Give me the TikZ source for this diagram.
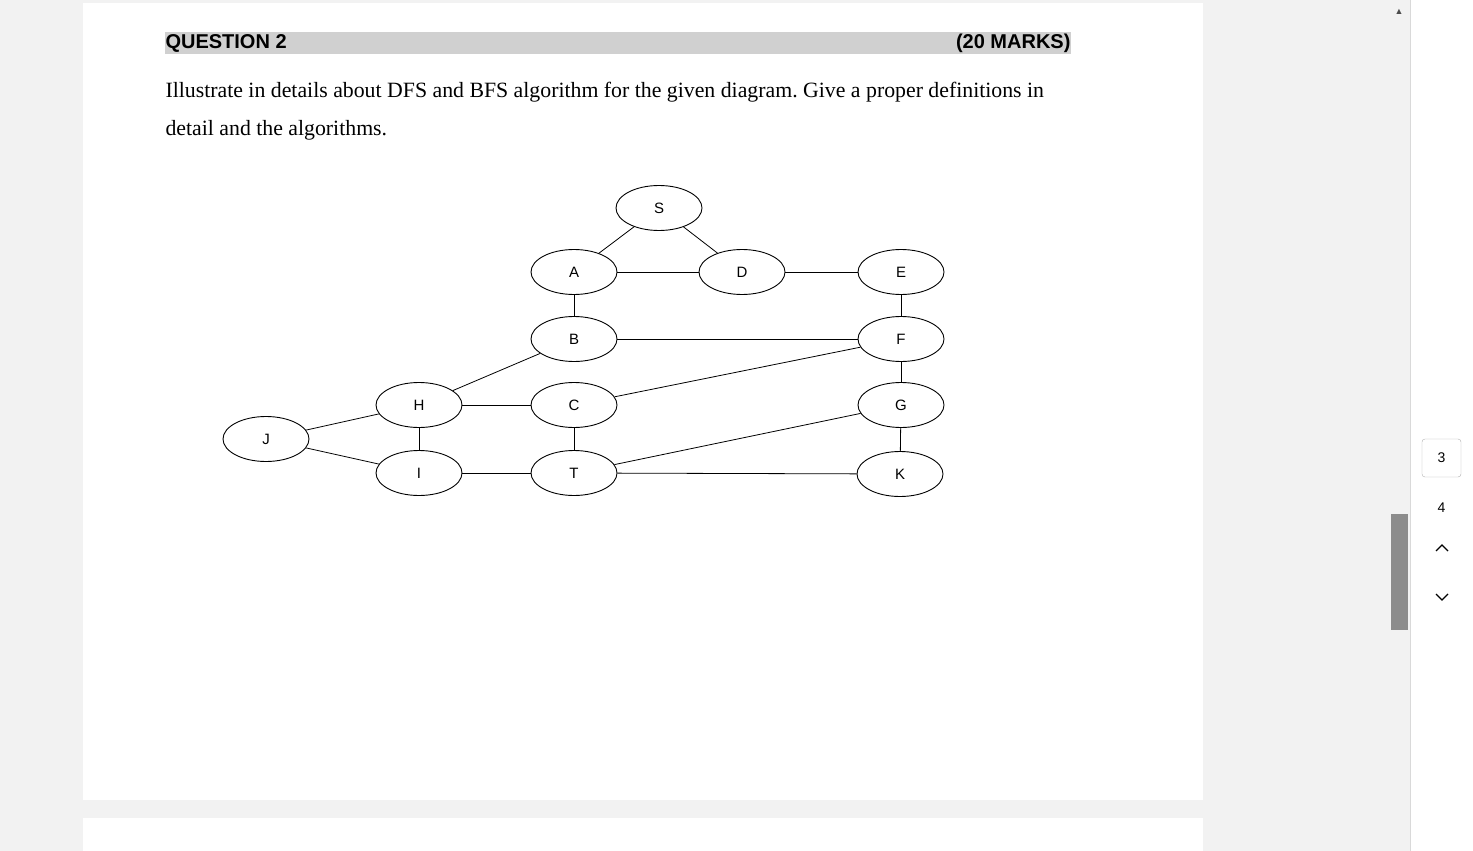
\documentclass[tikz,border=0pt]{standalone}
\usepackage{fontspec}
\setmainfont{Liberation Serif}
\setsansfont{Liberation Sans}
\usetikzlibrary{shapes.geometric}
\definecolor{bg}{HTML}{F2F2F2}
\definecolor{bar}{HTML}{D0D0D0}
\tikzset{
  vtx/.style={ellipse,draw,line width=0.9pt,minimum width=86pt,minimum height=45pt,inner sep=0pt,font=\sffamily\fontsize{15}{15}\selectfont},
  edge/.style={line width=0.8pt},
}
\frenchspacing
\begin{document}
\begin{tikzpicture}[x=1pt,y=-1pt]
\useasboundingbox (0,0) rectangle (1473,851);
\fill[bg] (0,0) rectangle (1473,851);
\fill[white] (83,3) rectangle (1203,800);
\fill[white] (83,818) rectangle (1203,851);
\fill[white] (1411,0) rectangle (1473,851);
\draw[black!15] (1410.5,0) -- (1410.5,851);
\fill[black!45] (1391,514) rectangle (1408,630);
\node[font=\sffamily\small, text=black!70] (up) at (1399,12) {\char"25B2};
\draw[black!30,rounded corners=3pt,fill=white] (1422,439) rectangle (1461,477);
\node[font=\sffamily\fontsize{14}{14}\selectfont] (p3) at (1441.5,458) {3};
\node[font=\sffamily\fontsize{14}{14}\selectfont] (p4) at (1441.5,508) {4};
\draw[line width=1.3pt] (1436,551) -- (1442,545) -- (1448,551);
\draw[line width=1.3pt] (1436,594) -- (1442,600) -- (1448,594);
% header
\fill[bar] (165,32) rectangle (1071,54);
\node[anchor=west,font=\sffamily\bfseries\fontsize{20}{20}\selectfont] (q) at (162,43) {QUESTION 2};
\node[anchor=east,font=\sffamily\bfseries\fontsize{20}{20}\selectfont] (m) at (1074,43) {(20 MARKS)};
\node[anchor=west,font=\fontsize{21.8}{22}\selectfont] (t1) at (162,92) {Illustrate in details about DFS and BFS algorithm for the given diagram. Give a proper definitions in};
\node[anchor=west,font=\fontsize{21.8}{22}\selectfont] (t2) at (162,130) {detail and the algorithms.};
% graph
\node[vtx] (S) at (659,208) {S};
\node[vtx] (A) at (574,272) {A};
\node[vtx] (D) at (742,272) {D};
\node[vtx] (E) at (901,272) {E};
\node[vtx] (B) at (574,339) {B};
\node[vtx] (F) at (901,339) {F};
\node[vtx] (H) at (419,405) {H};
\node[vtx] (C) at (574,405) {C};
\node[vtx] (G) at (901,405) {G};
\node[vtx] (J) at (266,439) {J};
\node[vtx] (I) at (419,473) {I};
\node[vtx] (T) at (574,473) {T};
\node[vtx] (K) at (900,474) {K};
\foreach \a/\b in {S/A,S/D,A/D,D/E,A/B,E/F,B/F,B/H,F/C,F/G,H/C,H/J,J/I,H/I,C/T,I/T,T/G,T/K,G/K}
  \draw[edge] (\a) -- (\b);
\end{tikzpicture}
\end{document}
